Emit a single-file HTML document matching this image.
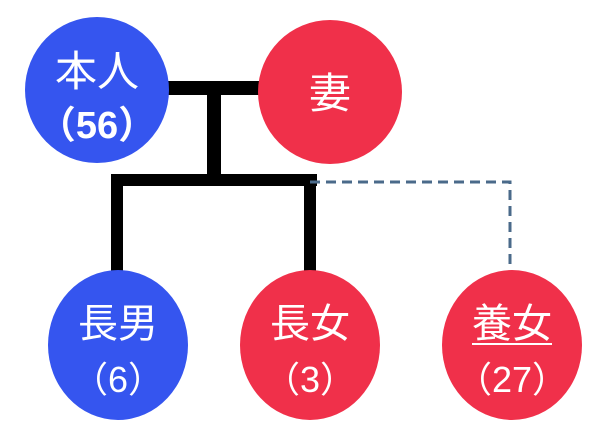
<!DOCTYPE html>
<html><head><meta charset="utf-8"><style>
body{margin:0;background:#fff;width:600px;height:428px;overflow:hidden}
svg text{font-family:"Liberation Sans","Noto Sans CJK JP",sans-serif;fill:#fff;text-anchor:middle}
</style></head><body>
<svg width="600" height="428" viewBox="0 0 600 428">
<rect x="165" y="81" width="98" height="14" fill="#000"/>
<rect x="207" y="88" width="14" height="96" fill="#000"/>
<rect x="111" y="174" width="206" height="12" fill="#000"/>
<rect x="111" y="174" width="12" height="100" fill="#000"/>
<rect x="304" y="174" width="12" height="100" fill="#000"/>
<path d="M310 182 H510 V270" fill="none" stroke="#4a6a8a" stroke-width="3" stroke-dasharray="10,6"/>
<ellipse cx="97" cy="90" rx="72" ry="73" fill="#3555ef"/>
<ellipse cx="330" cy="92" rx="72" ry="72" fill="#f0304a"/>
<ellipse cx="118" cy="345" rx="70" ry="75" fill="#3555ef"/>
<ellipse cx="310" cy="345" rx="70" ry="75" fill="#f0304a"/>
<ellipse cx="512" cy="345" rx="70" ry="75" fill="#f0304a"/>
<text x="97" y="86" font-size="42">本人</text>
<text x="97" y="138" font-size="38" font-weight="bold">（56）</text>
<text x="330" y="108" font-size="42">妻</text>
<text x="118" y="337" font-size="40">長男</text>
<text x="118" y="392" font-size="36">（6）</text>
<text x="310" y="337" font-size="40">長女</text>
<text x="310" y="392" font-size="36">（3）</text>
<text x="512" y="337" font-size="40">養女</text>
<rect x="472" y="343" width="80" height="2" fill="#fff"/>
<text x="512" y="392" font-size="36">（27）</text>
</svg>
</body></html>
